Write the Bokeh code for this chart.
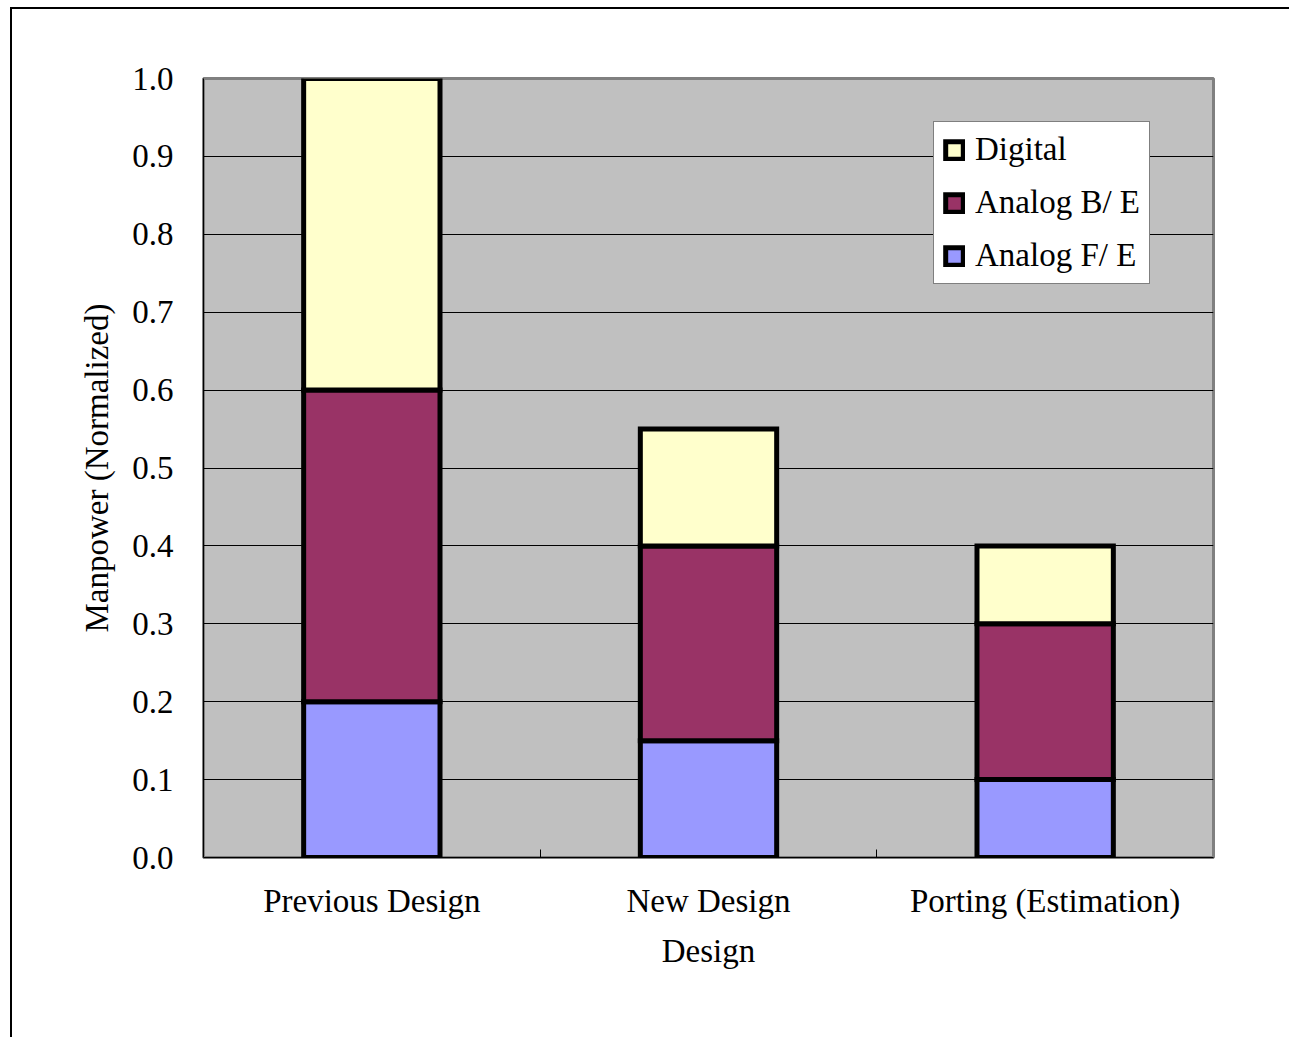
from bokeh.plotting import figure
from bokeh.models import (Range1d, FixedTicker, Legend, LegendItem,
                          NumeralTickFormatter, ColumnDataSource)
from bokeh.embed import file_html
from bokeh.resources import INLINE

categories = ["Previous Design", "New Design", "Porting (Estimation)"]
analog_fe = [0.20, 0.15, 0.10]
analog_be = [0.40, 0.25, 0.20]
digital = [0.40, 0.15, 0.10]
y_ticks = [0.0, 0.1, 0.2, 0.3, 0.4, 0.5, 0.6, 0.7, 0.8, 0.9, 1.0]

series_names = ["Analog F/ E", "Analog B/ E", "Digital"]
colors = ["#9999FF", "#993366", "#FFFFCC"]

x_pos = [i + 0.5 for i in range(len(categories))]
source = ColumnDataSource(dict(x=x_pos, fe=analog_fe, be=analog_be, dg=digital))

FONT = "Liberation Serif"
FS = "33px"

# figure content starts at (12, 9) in the window (after margin + 2px border)
p = figure(width=1279, height=1030, output_backend="svg", toolbar_location=None,
           x_range=Range1d(0, len(categories)), y_range=Range1d(0, 1.0),
           min_border_left=191, min_border_right=78, min_border_top=69,
           min_border_bottom=182)
p.margin = (7, 0, 0, 10)
p.styles = {"border-left": "2px solid black", "border-top": "2px solid black"}

p.background_fill_color = "#C0C0C0"
p.border_fill_color = "white"
p.outline_line_color = "#808080"
p.outline_line_width = 3

renderers = p.vbar_stack(["fe", "be", "dg"], x="x", width=0.405, source=source,
                         fill_color=colors, line_color="black", line_width=5,
                         line_join="miter")

# axes
p.xaxis.ticker = FixedTicker(ticks=x_pos, minor_ticks=[1, 2])
p.xaxis.major_label_overrides = {x: c for x, c in zip(x_pos, categories)}
p.xaxis.major_tick_in = 0
p.xaxis.major_tick_out = 0
p.xaxis.minor_tick_in = 8
p.xaxis.minor_tick_out = 0
p.xaxis.minor_tick_line_color = "black"
p.xaxis.axis_line_color = "black"
p.xaxis.axis_label = "Design"

p.yaxis.ticker = FixedTicker(ticks=y_ticks)
p.yaxis.formatter = NumeralTickFormatter(format="0.0")
p.yaxis.major_tick_in = 0
p.yaxis.major_tick_out = 0
p.yaxis.minor_tick_line_color = None
p.yaxis.axis_line_color = "black"
p.yaxis.axis_label = "Manpower (Normalized)"

for ax in (p.xaxis[0], p.yaxis[0]):
    ax.major_label_text_font = FONT
    ax.major_label_text_font_size = FS
    ax.major_label_text_color = "black"
    ax.axis_label_text_font = FONT
    ax.axis_label_text_font_size = FS
    ax.axis_label_text_font_style = "normal"
    ax.axis_label_text_color = "black"

p.yaxis.major_label_standoff = 30
p.yaxis.axis_label_standoff = 14
p.xaxis.major_label_standoff = 25
p.xaxis.axis_label_standoff = 11

p.xgrid.grid_line_color = None
p.ygrid.grid_line_color = "black"
p.ygrid.grid_line_width = 1

legend = Legend(items=[LegendItem(label=series_names[i], renderers=[renderers[i]])
                       for i in (2, 1, 0)],
                location=(730, 573))
legend.label_text_font = FONT
legend.label_text_font_size = FS
legend.label_text_color = "black"
legend.glyph_width = 22
legend.glyph_height = 22
legend.label_standoff = 10
legend.padding = 9
legend.spacing = 16
legend.margin = 0
legend.border_line_color = "black"
legend.border_line_width = 1
legend.background_fill_color = "white"
legend.background_fill_alpha = 1
p.add_layout(legend)

open("out.html", "w").write(file_html(p, INLINE))
